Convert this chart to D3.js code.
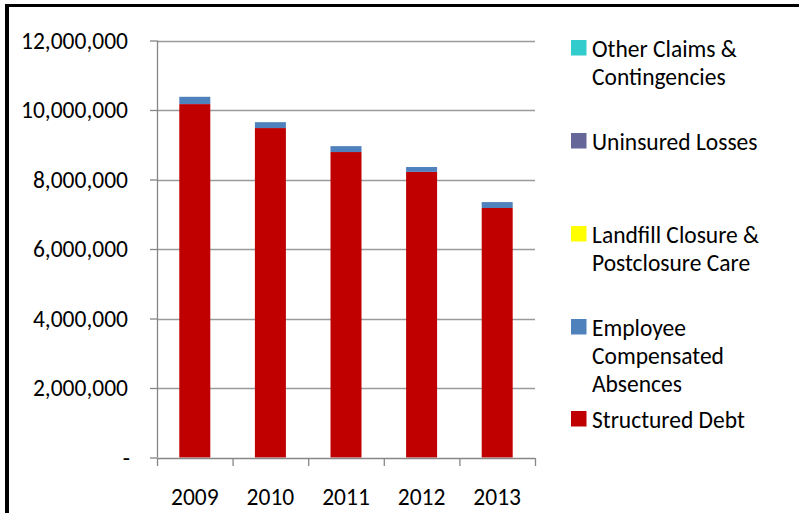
<!DOCTYPE html>
<html>
<head>
<meta charset="utf-8">
<script src="https://cdn.jsdelivr.net/npm/d3@7"></script>
<style>
  html, body { margin: 0; padding: 0; background: #fff; }
  svg { display: block; }
  text { font-family: Carlito, Calibri, Lato, "Open Sans", sans-serif; fill: #000; }
</style>
</head>
<body>
<svg id="chart" width="799" height="513"></svg>
<script>
// ---- data ----
const years = ["2009", "2010", "2011", "2012", "2013"];
const structuredDebt = [10170000, 9480000, 8790000, 8220000, 7180000];
const employeeAbsences = [210000, 170000, 170000, 140000, 170000];
const landfillClosure = [0, 0, 0, 0, 0];
const uninsuredLosses = [0, 0, 0, 0, 0];
const otherClaims = [0, 0, 0, 0, 0];
const yTicks = [0, 2000000, 4000000, 6000000, 8000000, 10000000, 12000000];

const seriesNames = ["Structured Debt", "Employee Compensated Absences", "Landfill Closure & Postclosure Care", "Uninsured Losses", "Other Claims & Contingencies"];
const seriesColors = ["#C00000", "#4F81BD", "#FFFF00", "#666699", "#33CCCC"];
const seriesValues = [structuredDebt, employeeAbsences, landfillClosure, uninsuredLosses, otherClaims];

// legend (top to bottom) with line breaks
const legendOrder = [4, 3, 2, 1, 0];
const legendLines = [
  ["Structured Debt"],
  ["Employee", "Compensated", "Absences"],
  ["Landfill Closure &", "Postclosure Care"],
  ["Uninsured Losses"],
  ["Other Claims &", "Contingencies"]
];

const FS = "23.5px";
const svg = d3.select("#chart");

// frame (left and top edges)
svg.append("rect").attr("x", 5).attr("y", 4).attr("width", 794).attr("height", 3).attr("fill", "#000");
svg.append("rect").attr("x", 5).attr("y", 4).attr("width", 4).attr("height", 509).attr("fill", "#000");

const plotLeft = 157, plotRight = 535, plotTop = 40.5, plotBottom = 457.5;

const x = d3.scaleBand().domain(years).range([plotLeft, plotRight]).paddingInner(0).paddingOuter(0);
const y = d3.scaleLinear().domain([0, 12000000]).range([plotBottom, plotTop]);

// gridlines
svg.append("g").selectAll("line").data(yTicks.filter(d => d > 0)).join("line")
  .attr("x1", plotLeft).attr("x2", plotRight)
  .attr("y1", d => Math.round(y(d)) + 0.5).attr("y2", d => Math.round(y(d)) + 0.5)
  .attr("stroke", "#9a9a9a").attr("stroke-width", 1.3);

// stacked data
const table = years.map((yr, i) => {
  const o = { year: yr };
  seriesNames.forEach((n, k) => { o[n] = seriesValues[k][i]; });
  return o;
});
const stack = d3.stack().keys(seriesNames)(table);

const bw = x.bandwidth() * 0.41;
const off = (x.bandwidth() - bw) / 2;
svg.append("g").selectAll("g").data(stack).join("g")
  .attr("fill", (d, i) => seriesColors[i])
  .selectAll("rect").data(d => d).join("rect")
  .attr("x", d => x(d.data.year) + off)
  .attr("width", bw)
  .attr("y", d => y(d[1]))
  .attr("height", d => Math.max(0, y(d[0]) - y(d[1])));

// y axis
const yAxis = d3.axisLeft(y).tickValues(yTicks).tickSize(7).tickPadding(22)
  .tickFormat(d => d === 0 ? "-" : d3.format(",")(d));
const gy = svg.append("g").attr("transform", `translate(${plotLeft},0)`).call(yAxis);
gy.select(".domain").attr("stroke", "#868686").attr("stroke-width", 1.3).attr("d", `M0.5,${plotTop}V${plotBottom}`);
gy.selectAll(".tick line").attr("stroke", "#868686").attr("stroke-width", 1.3);
gy.selectAll(".tick text").attr("font-size", FS).attr("fill", "#000")
  .attr("font-family", "Carlito, Calibri, Lato, sans-serif")
  .attr("dx", d => d === 0 ? "2px" : 0);

// x axis
const gx = svg.append("g").attr("transform", `translate(0,${Math.round(plotBottom)})`);
gx.append("line").attr("x1", plotLeft).attr("x2", plotRight).attr("y1", 0.5).attr("y2", 0.5)
  .attr("stroke", "#868686").attr("stroke-width", 1.3);
const tickXs = years.map(d => x(d)).concat([x.range()[1]]);
gx.selectAll("line.xt").data(tickXs).join("line").attr("class", "xt")
  .attr("x1", d => d + 0.5).attr("x2", d => d + 0.5).attr("y1", 0).attr("y2", 8)
  .attr("stroke", "#868686").attr("stroke-width", 1.3);
gx.selectAll("text").data(years).join("text")
  .attr("x", d => x(d) + x.bandwidth() / 2)
  .attr("y", 47)
  .attr("text-anchor", "middle")
  .attr("font-size", FS)
  .text(d => d);

// legend
const legTops = [40, 133, 226, 319, 411];
const lg = svg.append("g");
legendOrder.forEach((si, idx) => {
  const top = legTops[idx];
  lg.append("rect").attr("x", 571).attr("y", top).attr("width", 15.5).attr("height", 15.5)
    .attr("fill", seriesColors[si]);
  const t = lg.append("text").attr("x", 592).attr("y", top + 16.5).attr("font-size", FS);
  legendLines[si].forEach((ln, j) => {
    t.append("tspan").attr("x", 592).attr("dy", j === 0 ? 0 : 28).text(ln);
  });
});
</script>
</body>
</html>
